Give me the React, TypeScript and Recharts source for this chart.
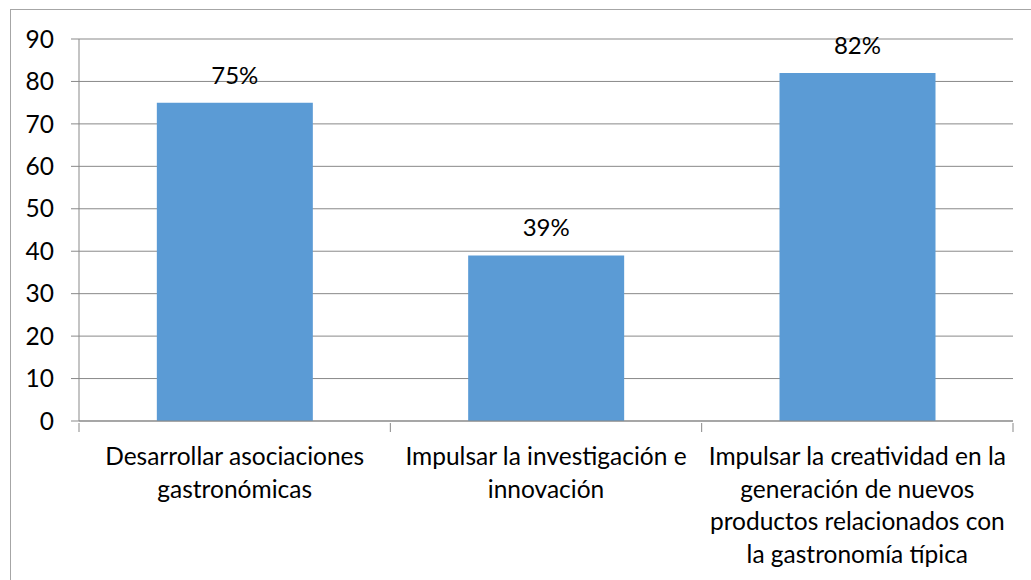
import { BarChart, Bar, XAxis, YAxis, CartesianGrid, LabelList } from 'recharts'

const categories = [
  'Desarrollar asociaciones gastronómicas',
  'Impulsar la investigación e innovación',
  'Impulsar la creatividad en la generación de nuevos productos relacionados con la gastronomía típica',
]
const categoryLines = [
  ['Desarrollar asociaciones', 'gastronómicas'],
  ['Impulsar la investigación e', 'innovación'],
  ['Impulsar la creatividad en la', 'generación de nuevos', 'productos relacionados con', 'la gastronomía típica'],
]
const values = [75, 39, 82]
const valueLabels = ['75%', '39%', '82%']
const yTicks = [0, 10, 20, 30, 40, 50, 60, 70, 80, 90]

const FONT = 'Lato, "Open Sans", sans-serif'
const AXIS = '#898989'

const data = categories.map((name, i) => ({ name, value: values[i], label: valueLabels[i] }))

function CategoryTick(props: any) {
  const { x, y, payload, index, visibleTicksCount } = props
  const half = payload.offset ?? 0
  const lines = categoryLines[index] ?? [String(payload.value)]
  const last = index === (visibleTicksCount ?? categories.length) - 1
  return (
    <g>
      <line x1={x - half} x2={x - half} y1={y} y2={y + 9} stroke={AXIS} />
      {last && <line x1={x + half} x2={x + half} y1={y} y2={y + 9} stroke={AXIS} />}
      <text x={x} y={y} textAnchor="middle" fontFamily={FONT} fontSize={24.5} fill="#000">
        {lines.map((l, i) => (
          <tspan key={i} x={x} dy={i === 0 ? 42 : 32.5}>{l}</tspan>
        ))}
      </text>
    </g>
  )
}

export default function App() {
  return (
    <div style={{ position: 'absolute', left: 0, top: 0, width: 1031, height: 580, overflow: 'hidden', background: '#fff' }}>
      <div style={{ position: 'absolute', left: 10, top: 9, width: 1060, height: 620, border: '1px solid #a6a6a6' }} />
      <div style={{ position: 'absolute', left: 0, top: 0 }}>
        <BarChart width={1031} height={580} data={data} margin={{ top: 39, right: 18, left: 0, bottom: 0 }} barCategoryGap="25%">
          <CartesianGrid vertical={false} stroke={AXIS} strokeDasharray="" />
          <XAxis
            dataKey="name"
            interval={0}
            stroke={AXIS}
            tickLine={false}
            tickSize={0}
            tick={<CategoryTick />}
            height={159}
          />
          <YAxis
            domain={[0, 90]}
            ticks={yTicks}
            interval={0}
            width={79}
            stroke={AXIS}
            tickSize={8}
            tickMargin={17}
            tick={{ fontFamily: FONT, fontSize: 24.5, fill: '#000' }}
          />
          <Bar dataKey="value" fill="#5b9bd5" isAnimationActive={false}>
            <LabelList dataKey="label" position="top" offset={19} style={{ fontFamily: FONT, fontSize: 24, fill: '#000' }} />
          </Bar>
        </BarChart>
      </div>
    </div>
  )
}
